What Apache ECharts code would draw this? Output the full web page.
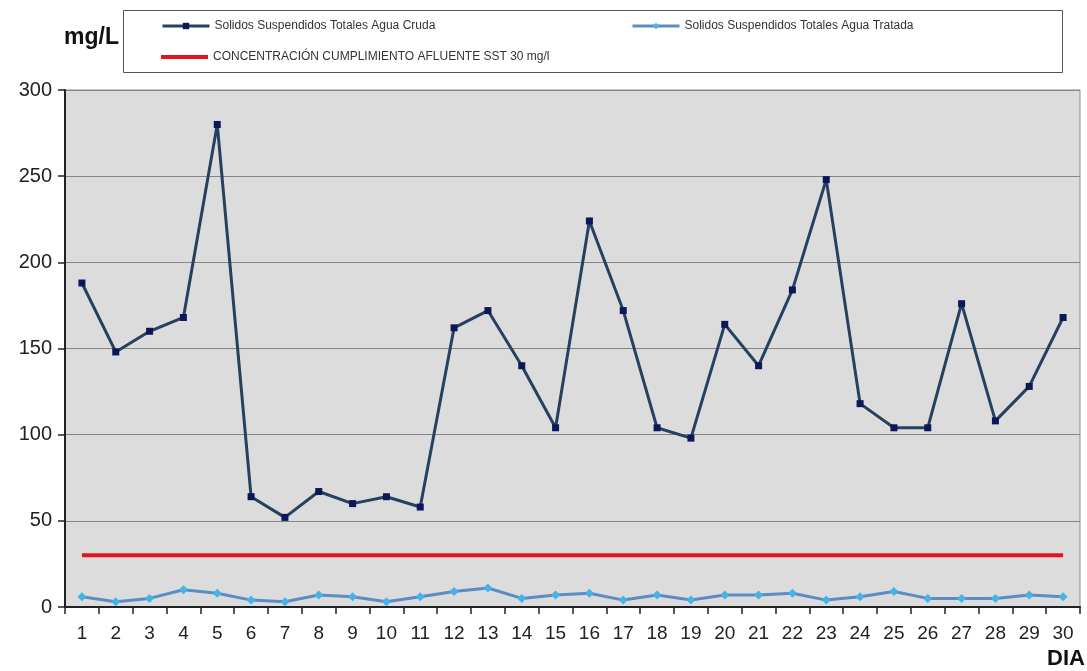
<!DOCTYPE html>
<html>
<head>
<meta charset="utf-8">
<style>
  html, body { margin: 0; padding: 0; background: #ffffff; }
  #chart { width: 1087px; height: 671px; }
</style>
<script src="https://cdn.jsdelivr.net/npm/echarts@6/dist/echarts.min.js"></script>
</head>
<body>
<div id="chart"></div>
<script>
// Días del mes
const dias = ['1','2','3','4','5','6','7','8','9','10','11','12','13','14','15',
              '16','17','18','19','20','21','22','23','24','25','26','27','28','29','30'];

// Sólidos suspendidos totales, agua cruda (mg/L)
const sstCruda = [188, 148, 160, 168, 280, 64, 52, 67, 60, 64, 58, 162, 172, 140, 104,
                  224, 172, 104, 98, 164, 140, 184, 248, 118, 104, 104, 176, 108, 128, 168];

// Sólidos suspendidos totales, agua tratada (mg/L)
const sstTratada = [6, 3, 5, 10, 8, 4, 3, 7, 6, 3, 6, 9, 11, 5, 7,
                    8, 4, 7, 4, 7, 7, 8, 4, 6, 9, 5, 5, 5, 7, 6];

// Concentración de cumplimiento (30 mg/l)
const limiteSST = [30, 30, 30, 30, 30, 30, 30, 30, 30, 30, 30, 30, 30, 30, 30,
                   30, 30, 30, 30, 30, 30, 30, 30, 30, 30, 30, 30, 30, 30, 30];

const nombreCruda = 'Solidos Suspendidos Totales Agua Cruda';
const nombreTratada = 'Solidos Suspendidos Totales Agua Tratada';
const nombreLimite = 'CONCENTRACIÓN CUMPLIMIENTO AFLUENTE SST 30 mg/l';

const FONT = '"Liberation Sans", Arial, sans-serif';

const chart = echarts.init(document.getElementById('chart'), null, { renderer: 'canvas' });

const legendText = { fontFamily: FONT, fontSize: 12, color: '#333' };

chart.setOption({
  animation: false,
  backgroundColor: '#ffffff',
  graphic: [
    {
      type: 'rect',
      z: 0,
      shape: { x: 123.5, y: 10.5, width: 939, height: 62 },
      style: { fill: '#ffffff', stroke: '#555555', lineWidth: 1 }
    },
    {
      type: 'text',
      z: 5,
      style: {
        x: 64, y: 38, text: 'mg/L',
        font: 'bold 23px ' + FONT,
        fill: '#111', textVerticalAlign: 'middle'
      }
    },
    {
      type: 'text',
      z: 5,
      style: {
        x: 1085, y: 659, text: 'DIA',
        font: 'bold 22px ' + FONT,
        fill: '#111', textAlign: 'right', textVerticalAlign: 'middle'
      }
    }
  ],
  legend: [
    {
      data: [nombreCruda], left: 161, top: 20,
      itemWidth: 47, itemHeight: 8, itemGap: 0, padding: 0,
      lineStyle: { width: 3 },
      textStyle: legendText
    },
    {
      data: [nombreTratada], left: 631, top: 20,
      itemWidth: 47, itemHeight: 8, itemGap: 0, padding: 0,
      lineStyle: { width: 3 },
      textStyle: legendText
    },
    {
      data: [{ name: nombreLimite, icon: 'rect' }], left: 161, top: 51,
      itemWidth: 47, itemHeight: 4, itemGap: 0, padding: 0,
      textStyle: legendText
    }
  ],
  grid: {
    left: 65, right: 7, top: 90, bottom: 64,
    show: true, backgroundColor: '#dcdcdc',
    borderColor: '#8c8c8c', borderWidth: 1
  },
  xAxis: {
    type: 'category',
    data: dias,
    boundaryGap: true,
    axisLine: { lineStyle: { color: '#222', width: 2 } },
    axisTick: { show: true, interval: 0, length: 7, lineStyle: { color: '#222', width: 1.5 } },
    axisLabel: { interval: 0, margin: 17, fontFamily: FONT, fontSize: 19, color: '#222' },
    splitLine: { show: false }
  },
  yAxis: {
    type: 'value',
    min: 0, max: 300, interval: 50,
    axisLine: { show: true, lineStyle: { color: '#222', width: 2 } },
    axisTick: { show: true, length: 7, lineStyle: { color: '#222', width: 1.5 } },
    axisLabel: { margin: 13, fontFamily: FONT, fontSize: 20, color: '#222' },
    splitLine: { show: true, lineStyle: { color: '#858585', width: 1.2 } }
  },
  series: [
    {
      name: nombreLimite,
      type: 'line',
      data: limiteSST,
      showSymbol: false,
      symbol: 'none',
      lineStyle: { color: '#e3161f', width: 4 },
      itemStyle: { color: '#e3161f' },
      z: 2
    },
    {
      name: nombreTratada,
      type: 'line',
      data: sstTratada,
      symbol: 'diamond',
      symbolSize: 9,
      lineStyle: { color: '#5b8cc2', width: 3 },
      itemStyle: { color: '#45b3e6', borderWidth: 0 },
      z: 3
    },
    {
      name: nombreCruda,
      type: 'line',
      data: sstCruda,
      symbol: 'rect',
      symbolSize: 7,
      lineStyle: { color: '#26405f', width: 3 },
      itemStyle: { color: '#0b1758', borderWidth: 0 },
      z: 4
    }
  ]
});
</script>
</body>
</html>
